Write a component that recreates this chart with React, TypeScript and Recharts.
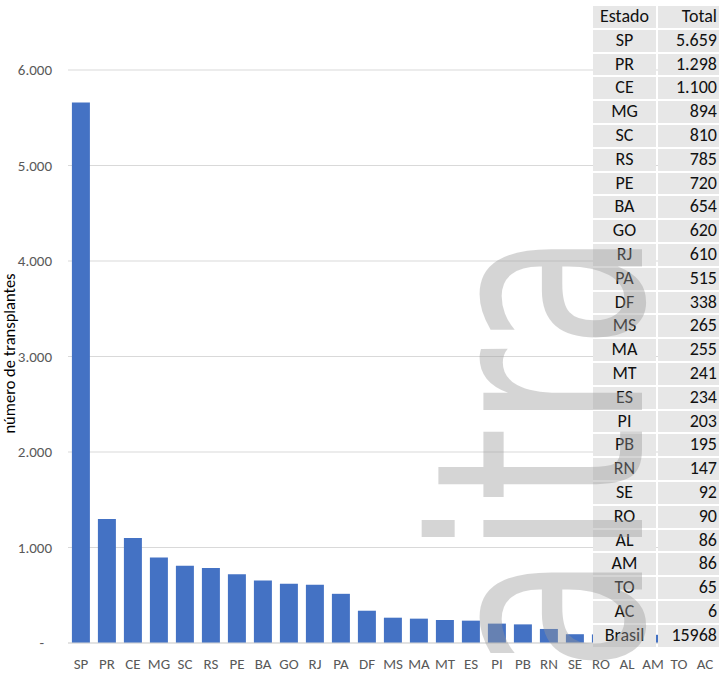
import React from 'react';
import { Bar, BarChart, CartesianGrid, XAxis, YAxis } from 'recharts';

const estados = [
  'SP', 'PR', 'CE', 'MG', 'SC', 'RS', 'PE', 'BA', 'GO', 'RJ', 'PA', 'DF', 'MS',
  'MA', 'MT', 'ES', 'PI', 'PB', 'RN', 'SE', 'RO', 'AL', 'AM', 'TO', 'AC',
];
const totais = [
  5659, 1298, 1100, 894, 810, 785, 720, 654, 620, 610, 515, 338, 265,
  255, 241, 234, 203, 195, 147, 92, 90, 86, 86, 65, 6,
];
const totalBrasil = 15968;
const yTicks = [0, 1000, 2000, 3000, 4000, 5000, 6000];

const FONT = "Carlito, Calibri, 'Open Sans', sans-serif";

const fmt = (v: number) => String(v).replace(/\B(?=(\d{3})+(?!\d))/g, '.');

const data = estados.map((estado, i) => ({ estado, total: totais[i] }));

const YTick = (props: any) => {
  const { x, y, payload } = props;
  const zero = payload.value === 0;
  return (
    <text
      x={zero ? x - 8 : x}
      y={y}
      dy={5}
      textAnchor="end"
      fontSize={15}
      fontFamily={FONT}
      fill="#595959"
    >
      {zero ? '-' : fmt(payload.value)}
    </text>
  );
};

const YLabel = (props: any) => {
  const { viewBox } = props;
  const cy = viewBox.y + viewBox.height / 2 - 3;
  return (
    <text
      x={15}
      y={cy}
      transform={`rotate(-90, 15, ${cy})`}
      textAnchor="middle"
      fontSize={16.5}
      fontFamily={FONT}
      fill="#000"
    >
      número de transplantes
    </text>
  );
};

const rowH = 23.8;
const tableTop = 6;

const Tabela = () => {
  const rows = [
    ['Estado', 'Total'],
    ...estados.map((e, i) => [e, fmt(totais[i])]),
    ['Brasil', String(totalBrasil)],
  ];
  return (
    <div style={{ position: 'absolute', left: 593, top: tableTop, width: 126 }}>
      {rows.map((r, i) => (
        <div key={i} style={{ display: 'flex', height: rowH, fontFamily: FONT, fontSize: 18, color: '#111' }}>
          <div
            style={{
              width: 63,
              height: rowH - 2,
              background: '#e7e7e7',
              textAlign: 'center',
              lineHeight: `${rowH - 2}px`,
            }}
          >
            {r[0]}
          </div>
          <div
            style={{
              marginLeft: 2,
              width: 61,
              height: rowH - 2,
              background: '#e7e7e7',
              textAlign: 'right',
              lineHeight: `${rowH - 2}px`,
              paddingRight: 2,
              boxSizing: 'border-box',
            }}
          >
            {r[1]}
          </div>
        </div>
      ))}
    </div>
  );
};

// marca d'água cinza por cima de tudo
const MarcaDagua = () => (
  <svg
    width={719}
    height={675}
    style={{ position: 'absolute', left: 0, top: 0, pointerEvents: 'none' }}
  >
    <text
      x={0}
      y={0}
      transform="translate(642, 672) rotate(-90)"
      fontSize={290}
      fontFamily="'Liberation Sans Narrow', 'DejaVu Sans Condensed', sans-serif"
      textLength={440}
      lengthAdjust="spacingAndGlyphs"
      fill="#999"
      opacity={0.4}
    >
      aitra
    </text>
  </svg>
);

export default function App() {
  return (
    <div style={{ position: 'absolute', left: 0, top: 0, width: 719, height: 675, background: '#fff' }}>
      <BarChart
        width={719}
        height={675}
        data={data}
        margin={{ top: 70, right: 1, bottom: 0, left: 0 }}
        barCategoryGap="15%"
      >
        <CartesianGrid vertical={false} stroke="#d9d9d9" />
        <XAxis
          dataKey="estado"
          height={32}
          interval={0}
          axisLine={{ stroke: '#d9d9d9' }}
          tickLine={false}
          tickMargin={9}
          tick={{ fontSize: 15, fontFamily: FONT, fill: '#595959' }}
        />
        <YAxis
          width={68}
          domain={[0, 6000]}
          ticks={yTicks}
          axisLine={false}
          tickLine={false}
          tickSize={0}
          tickMargin={16}
          tick={<YTick />}
          label={<YLabel />}
        />
        <Bar dataKey="total" fill="#4472c4" isAnimationActive={false} />
      </BarChart>
      <Tabela />
      <MarcaDagua />
    </div>
  );
}
